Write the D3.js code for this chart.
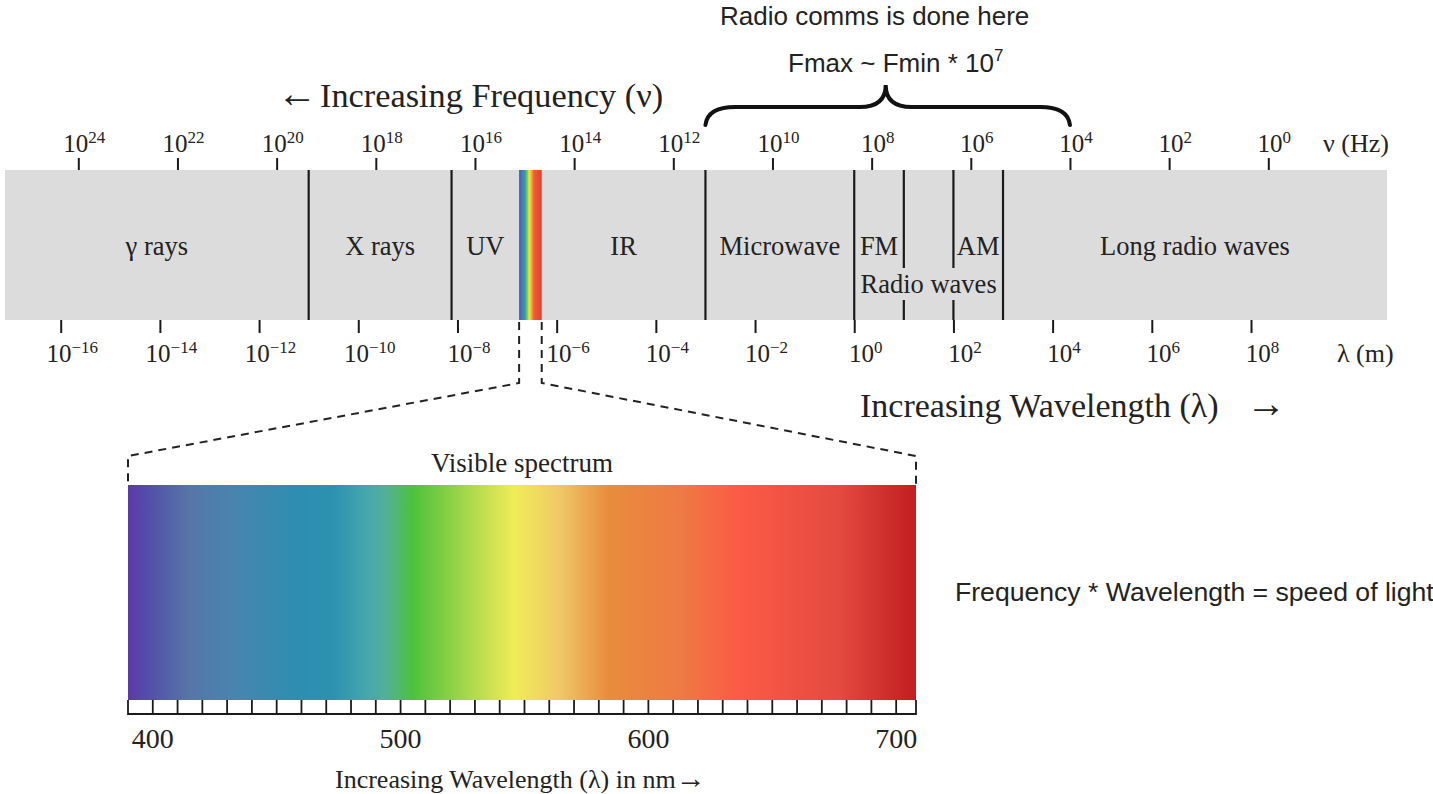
<!DOCTYPE html>
<html>
<head>
<meta charset="utf-8">
<script src="https://cdn.jsdelivr.net/npm/d3@7"></script>
<style>
  html, body { margin: 0; padding: 0; background: #fff; }
  svg { display: block; }
</style>
</head>
<body>
<svg id="chart" width="1433" height="794"></svg>
<script>
// ---------- DATA ----------
const freqExponents = [24, 22, 20, 18, 16, 14, 12, 10, 8, 6, 4, 2, 0];          // ν tick labels (Hz)
const waveExponents = [-16, -14, -12, -10, -8, -6, -4, -2, 0, 2, 4, 6, 8];      // λ tick labels (m)

// band boundaries (wavelength, metres)
const boundaryWavelengths = [1e-11, 7.6e-9, 1e-3, 1, 10, 100, 1000];
const boundaryGapped     = [false, false, false, false, true, true, false];
const visibleRange = [1.75e-7, 5e-7];   // visible strip as drawn in the band

// band labels: name, left edge, right edge (null = end of band)
const bandNames  = ["γ rays", "X rays", "UV", "IR", "Microwave", "FM", "AM", "Long radio waves"];
const bandStarts = [null, 1e-11, 7.6e-9, 5e-7, 1e-3, 1, 100, 1000];
const bandEnds   = [1e-11, 7.6e-9, 1.75e-7, 1e-3, 1, 10, 1000, null];

// visible spectrum (nm)
const visTicks = d3.range(390, 701, 10);
const visLabels = [400, 500, 600, 700];
const specStopNm = [390, 399, 415, 435, 459, 473, 486, 494, 505, 524, 546, 564, 584, 613, 637, 677, 708];
const specStopColor = ["#5b3aa6", "#5350aa", "#5676a8", "#4686ae", "#2d8db2", "#2c92b0", "#46a6ae", "#52b098",
                       "#4cc23c", "#9cd44a", "#f0ec58", "#f0c868", "#e88c3c", "#ee7a44", "#fb5a46", "#e44a40", "#c01e20"];
// compressed strip inside the band (position fraction, colour)
const miniStopPos = [0, 0.12, 0.25, 0.36, 0.45, 0.55, 0.66, 1];
const miniStopColor = ["#5a48a8", "#3f7fc0", "#2f9ab0", "#7ccf3c", "#eee84a", "#f4a83a", "#f05a3a", "#e0402e"];

// ---------- LAYOUT ----------
const serif = "'Liberation Serif', 'DejaVu Serif', serif";
const sans  = "'Liberation Sans', Arial, sans-serif";
const ink = "#1a1a1a";
const txt = "#222";
const bandTop = 170, bandBottom = 320, bandLeftPx = 5, bandRightPx = 1387;

const svg = d3.select("#chart");

const xF = d3.scaleLog().domain([1e24, 1]).range([78.3, 1268.3]);
const xL = d3.scaleLog().domain([1e-16, 1e8]).range([60.7, 1251]);
const xS = d3.scaleLinear().domain([390, 708]).range([128, 916]);

// gradients
const defs = svg.append("defs");
const sg = defs.append("linearGradient").attr("id", "specGrad")
  .attr("x1", "0%").attr("x2", "100%").attr("y1", "0%").attr("y2", "0%");
specStopNm.forEach((nm, i) => {
  sg.append("stop")
    .attr("offset", ((nm - 390) / (708 - 390) * 100) + "%")
    .attr("stop-color", specStopColor[i]);
});
const mg = defs.append("linearGradient").attr("id", "miniGrad")
  .attr("x1", "0%").attr("x2", "100%").attr("y1", "0%").attr("y2", "0%");
miniStopPos.forEach((p, i) => {
  mg.append("stop").attr("offset", (p * 100) + "%").attr("stop-color", miniStopColor[i]);
});

// ---------- BAND ----------
svg.append("rect")
  .attr("x", bandLeftPx).attr("y", bandTop)
  .attr("width", bandRightPx - bandLeftPx).attr("height", bandBottom - bandTop)
  .attr("fill", "#dcdcdc");

svg.append("rect")
  .attr("x", xL(visibleRange[0])).attr("y", bandTop)
  .attr("width", xL(visibleRange[1]) - xL(visibleRange[0]))
  .attr("height", bandBottom - bandTop)
  .attr("fill", "url(#miniGrad)");

boundaryWavelengths.forEach((w, i) => {
  const x = xL(w);
  const segs = boundaryGapped[i] ? [[bandTop, 268], [300, bandBottom]] : [[bandTop, bandBottom]];
  segs.forEach(([a, b]) => {
    svg.append("line").attr("x1", x).attr("x2", x).attr("y1", a).attr("y2", b)
      .attr("stroke", ink).attr("stroke-width", 2.2);
  });
});

bandNames.forEach((name, i) => {
  const x0 = bandStarts[i] === null ? bandLeftPx : xL(bandStarts[i]);
  const x1 = bandEnds[i] === null ? bandRightPx : xL(bandEnds[i]);
  svg.append("text")
    .attr("x", (x0 + x1) / 2).attr("y", 255)
    .attr("text-anchor", "middle")
    .attr("font-family", serif).attr("font-size", 26.5)
    .attr("fill", txt)
    .text(name);
});
svg.append("text")
  .attr("x", (xL(1) + xL(1000)) / 2).attr("y", 293)
  .attr("text-anchor", "middle")
  .attr("font-family", serif).attr("font-size", 26.5)
  .attr("fill", txt)
  .text("Radio waves");

// ---------- AXES ----------
function styleAxis(g, baseY, dx) {
  g.select(".domain").remove();
  g.attr("font-family", serif).attr("font-size", 25);
  g.selectAll(".tick line").attr("stroke", ink).attr("stroke-width", 2);
  g.selectAll(".tick text").each(function () {
    d3.select(this).text(null)
      .attr("y", baseY).attr("dy", "0").attr("x", dx)
      .attr("text-anchor", "middle").attr("fill", txt);
  });
}

const gTop = svg.append("g").attr("transform", `translate(0,${bandTop})`)
  .call(d3.axisTop(xF).tickValues(freqExponents.map(e => Math.pow(10, e))).tickSize(12).tickSizeOuter(0));
styleAxis(gTop, -18, 5.5);
gTop.selectAll(".tick text").each(function (d, i) {
  const t = d3.select(this);
  t.append("tspan").text("10");
  t.append("tspan").attr("dy", -9).attr("font-size", 17).text(String(freqExponents[i]));
});

const gBot = svg.append("g").attr("transform", `translate(0,${bandBottom})`)
  .call(d3.axisBottom(xL).tickValues(waveExponents.map(e => Math.pow(10, e))).tickSize(13).tickSizeOuter(0));
styleAxis(gBot, 42, 11);
gBot.selectAll(".tick text").each(function (d, i) {
  const t = d3.select(this);
  const e = waveExponents[i];
  t.append("tspan").text("10");
  t.append("tspan").attr("dy", -9).attr("font-size", 17)
    .text(e < 0 ? "\u2212" + Math.abs(e) : String(e));
});

svg.append("text").attr("x", 1323).attr("y", 152)
  .attr("font-family", serif).attr("font-size", 26).attr("fill", txt)
  .text("ν (Hz)");
svg.append("text").attr("x", 1337).attr("y", 362)
  .attr("font-family", serif).attr("font-size", 26).attr("fill", txt)
  .text("λ (m)");

// direction titles
svg.append("text").attr("x", 277).attr("y", 107)
  .attr("font-family", serif).attr("font-size", 40).attr("fill", txt)
  .text("\u2190");
svg.append("text").attr("x", 320).attr("y", 107)
  .attr("font-family", serif).attr("font-size", 34.3).attr("fill", txt)
  .text("Increasing Frequency (ν)");
svg.append("text").attr("x", 860).attr("y", 417)
  .attr("font-family", serif).attr("font-size", 34).attr("fill", txt)
  .text("Increasing Wavelength (λ)");
svg.append("text").attr("x", 1246).attr("y", 417)
  .attr("font-family", serif).attr("font-size", 40).attr("fill", txt)
  .text("\u2192");

// ---------- BRACE + ANNOTATIONS ----------
const bx0 = xL(1e-3), bx1 = xF(1e4), bm = (bx0 + bx1) / 2 - 2;
const by = 107, bEnd = 125, bPeak = 85;
const bp = d3.path();
bp.moveTo(bx0, bEnd);
bp.quadraticCurveTo(bx0 + 2, by, bx0 + 30, by);
bp.lineTo(bm - 26, by);
bp.quadraticCurveTo(bm, by, bm, bPeak);
bp.quadraticCurveTo(bm, by, bm + 26, by);
bp.lineTo(bx1 - 30, by);
bp.quadraticCurveTo(bx1 - 2, by, bx1, bEnd);
svg.append("path").attr("d", bp.toString())
  .attr("fill", "none").attr("stroke", "#111").attr("stroke-width", 4)
  .attr("stroke-linecap", "round");

svg.append("text").attr("x", 720).attr("y", 25)
  .attr("font-family", sans).attr("font-size", 26).attr("fill", txt)
  .text("Radio comms is done here");
const fm = svg.append("text").attr("x", 788).attr("y", 72)
  .attr("font-family", sans).attr("font-size", 26).attr("fill", txt);
fm.append("tspan").text("Fmax ~ Fmin * 10");
fm.append("tspan").attr("dy", -11).attr("font-size", 17).text("7");

svg.append("text").attr("x", 955).attr("y", 601)
  .attr("font-family", sans).attr("font-size", 26.6).attr("fill", txt)
  .text("Frequency * Wavelength = speed of light");

// ---------- DASHED ZOOM LINES ----------
const specTop = 485, specBottom = 700;
[[xL(visibleRange[0]), xS(390)], [xL(visibleRange[1]), xS(708)]].forEach(([a, b]) => {
  const p = d3.path();
  p.moveTo(a, bandBottom + 2);
  p.lineTo(a, 383);
  p.lineTo(b, 456);
  p.lineTo(b, specTop);
  svg.append("path").attr("d", p.toString())
    .attr("fill", "none").attr("stroke", "#222").attr("stroke-width", 2)
    .attr("stroke-dasharray", "8,6");
});

// ---------- VISIBLE SPECTRUM ----------
svg.append("text").attr("x", (xS(390) + xS(708)) / 2).attr("y", 472)
  .attr("text-anchor", "middle")
  .attr("font-family", serif).attr("font-size", 27).attr("fill", txt)
  .text("Visible spectrum");

svg.append("rect")
  .attr("x", xS(390)).attr("y", specTop)
  .attr("width", xS(708) - xS(390)).attr("height", specBottom - specTop)
  .attr("fill", "url(#specGrad)");

const ruler = svg.append("g");
ruler.append("line").attr("x1", xS(390)).attr("x2", xS(708))
  .attr("y1", 714).attr("y2", 714).attr("stroke", ink).attr("stroke-width", 2);
ruler.selectAll("line.t").data(visTicks.concat([708])).join("line").attr("class", "t")
  .attr("x1", d => xS(d)).attr("x2", d => xS(d))
  .attr("y1", specBottom).attr("y2", 715)
  .attr("stroke", ink).attr("stroke-width", 1.8);

svg.selectAll("text.vl").data(visLabels).join("text").attr("class", "vl")
  .attr("x", d => xS(d)).attr("y", 748)
  .attr("text-anchor", "middle")
  .attr("font-family", serif).attr("font-size", 28).attr("fill", txt)
  .text(d => d);

const bl = svg.append("text").attr("x", 335).attr("y", 788)
  .attr("font-family", serif).attr("font-size", 26).attr("fill", txt);
bl.append("tspan").text("Increasing Wavelength (λ) in nm");
bl.append("tspan").attr("font-size", 30).text("\u2192");
</script>
</body>
</html>
